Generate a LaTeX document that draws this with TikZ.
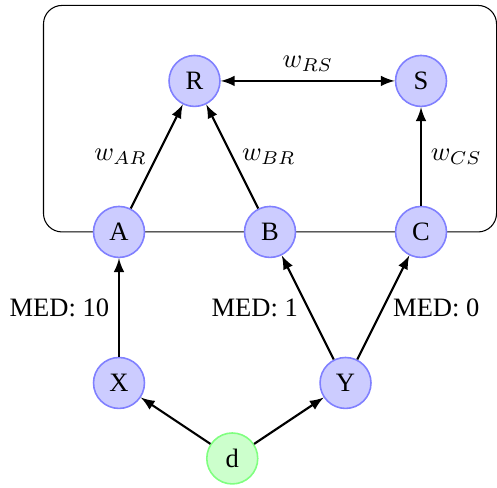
\documentclass[tikz,border=0pt]{standalone}
\usepackage{fontspec}
\setmainfont{Liberation Serif}
\usetikzlibrary{arrows}
\begin{document}
\begin{tikzpicture}[x=2cm,y=2cm,
  vnode/.style={circle,draw=blue!50,fill=blue!20,line width=0.6pt,minimum size=19.2pt,inner sep=0pt},
  dnode/.style={circle,draw=green!50,fill=green!20,line width=0.6pt,minimum size=19.2pt,inner sep=0pt},
  conn/.style={-latex,thick}]
\useasboundingbox (-0.788,-1.689) rectangle (2.503,1.536);
\draw[rounded corners=7pt] (-0.5,0) rectangle (2.5,1.5);
\node[vnode] (R) at (0.5,1) {R};
\node[vnode] (S) at (2,1) {S};
\node[vnode] (A) at (0,0) {A};
\node[vnode] (B) at (1,0) {B};
\node[vnode] (C) at (2,0) {C};
\node[vnode] (X) at (0,-1) {X};
\node[vnode] (Y) at (1.5,-1) {Y};
\node[dnode] (d) at (0.75,-1.5) {d};
\draw[latex-latex,thick] (R) -- node[above] {$w_{RS}$} (S);
\draw[conn] (A) -- node[left] {$w_{AR}$} (R);
\draw[conn] (B) -- node[right] {$w_{BR}$} (R);
\draw[conn] (C) -- node[right] {$w_{CS}$} (S);
\draw[conn] (X) -- node[left] {MED: 10} (A);
\draw[conn] (Y) -- node[left] {MED: 1} (B);
\draw[conn] (Y) -- node[right] {MED: 0} (C);
\draw[conn] (d) -- (X);
\draw[conn] (d) -- (Y);
\end{tikzpicture}
\end{document}
